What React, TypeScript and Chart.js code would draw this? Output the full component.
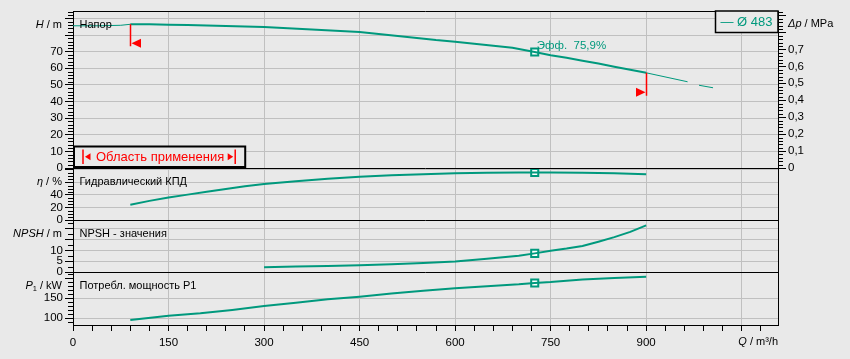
import React, { useEffect, useRef } from 'react';
import { Chart, registerables } from 'chart.js';

Chart.register(...registerables);

// ---------- data ----------
const X_MAX = 1107;
const X_TICKS = [0, 30, 60, 90, 120, 150, 180, 210, 240, 270, 300, 330, 360, 390, 420, 450, 480, 510, 540, 570, 600, 630, 660, 690, 720, 750, 780, 810, 840, 870, 900, 930, 960, 990, 1020, 1050, 1080];
const X_LABELS = [0, 150, 300, 450, 600, 750, 900];
const X_GRID = [150, 300, 450, 600, 750, 900, 1050];

const H_MAX = 94.5;
const H_TICKS = [0, 10, 20, 30, 40, 50, 60, 70, 80, 90];
const H_LABELS = [0, 10, 20, 30, 40, 50, 60, 70];
const ETA_MAX = 83;
const ETA_TICKS = [0, 20, 40, 60, 80];
const ETA_LABELS = [0, 20, 40];
const NPSH_MAX = 24;
const NPSH_TICKS = [0, 5, 10, 15, 20];
const NPSH_LABELS = [0, 5, 10];
const P_MIN = 83.3;
const P_MAX = 215.8;
const P_TICKS = [100, 150, 200];
const P_LABELS = [100, 150];
const DP_TICKS = [0, 0.1, 0.2, 0.3, 0.4, 0.5, 0.6, 0.7, 0.8, 0.9];
const DP_LABELS = [0, 0.1, 0.2, 0.3, 0.4, 0.5, 0.6, 0.7];

const H_PRE_Q = [0, 40, 75, 90];
const H_PRE_V = [85.6, 85.6, 85.9, 86.5];
const H_Q = [90, 120, 150, 180, 210, 240, 270, 300, 330, 360, 390, 420, 450, 480, 510, 540, 570, 600, 630, 660, 690, 725, 750, 775, 800, 825, 850, 875, 900];
const H_V = [86.5, 86.5, 86.2, 86.0, 85.8, 85.5, 85.2, 84.9, 84.3, 83.7, 83.0, 82.4, 81.8, 80.6, 79.4, 78.3, 77.0, 76.0, 74.8, 73.6, 72.4, 69.8, 67.9, 66.3, 64.5, 62.9, 61.0, 59.2, 57.3];
const H_POST_Q = [900, 965, 974, 983, 1005];
const H_POST_V = [57.3, 51.9, null, 49.8, 48.3];

const ETA_Q = [90, 120, 150, 180, 210, 240, 270, 300, 350, 400, 450, 500, 550, 600, 650, 700, 725, 750, 800, 850, 900];
const ETA_V = [24.5, 30.5, 36, 40.5, 45, 49.5, 54, 57.6, 62, 66, 69, 71.5, 73.2, 74.6, 75.5, 75.9, 75.9, 75.9, 75.5, 74.6, 73.2];

const NPSH_Q = [300, 350, 400, 450, 500, 550, 600, 650, 700, 725, 750, 775, 800, 825, 850, 875, 900];
const NPSH_V = [2.2, 2.5, 2.8, 3.1, 3.6, 4.2, 4.8, 6.1, 7.5, 8.6, 9.8, 10.8, 12.0, 14.0, 16.1, 18.5, 21.5];

const P_Q = [90, 150, 200, 250, 300, 350, 400, 450, 500, 550, 600, 650, 700, 725, 750, 800, 850, 900];
const P_V = [95.7, 106.5, 112.5, 121, 131, 139, 147.5, 154, 162, 169, 175, 180, 185, 188.5, 190.5, 197, 201, 204];

const DUTY_Q = 725;
const EFF_TEXT = 'Эфф.  75,9%';
const LEGEND_TEXT = '— Ø 483';
const RANGE_TEXT = 'Область применения';

// ---------- style ----------
const BG = '#e9e9e9';
const GRID = '#c0c0c0';
const TEAL = '#00997d';
const RED = '#ff0000';
const TXT = '#000000';
const FONT = '"Liberation Sans", Arial, sans-serif';
const LBL = 11;
const TICK = 11.5;
const W_H = 157, W_E = 52, W_N = 52, W_P = 53;
const M_PER_MPA = 101.97;

const pts = (q: number[], v: (number | null)[]) => q.map((x, i) => ({ x, y: v[i] }));
const near = (arr: number[], v: number) => arr.some((a) => Math.abs(a - v) < 1e-6);
const dutyVal = (q: number[], v: number[]) => v[q.indexOf(DUTY_Q)];

type Part = { t: string; it?: boolean; size?: number; dy?: number };
function drawRich(ctx: CanvasRenderingContext2D, parts: Part[], x: number, y: number, align: 'left' | 'right', color: string) {
  ctx.save();
  ctx.textBaseline = 'middle';
  ctx.textAlign = 'left';
  ctx.fillStyle = color;
  const fonts = parts.map((p) => `${p.it ? 'italic ' : ''}${p.size || LBL}px ${FONT}`);
  const widths = parts.map((p, i) => {
    ctx.font = fonts[i];
    return ctx.measureText(p.t).width;
  });
  const total = widths.reduce((a, b) => a + b, 0);
  let cx = align === 'right' ? x - total : x;
  parts.forEach((p, i) => {
    ctx.font = fonts[i];
    ctx.fillText(p.t, cx, y + (p.dy || 0));
    cx += widths[i];
  });
  ctx.restore();
}

function minorTicks(ctx: CanvasRenderingContext2D, scale: any, from: number, to: number, step: number, majors: number[], side: 'left' | 'right') {
  ctx.save();
  ctx.strokeStyle = '#000';
  ctx.lineWidth = 1;
  ctx.beginPath();
  const n = Math.round((to - from) / step);
  for (let i = 0; i <= n; i++) {
    const v = from + i * step;
    if (v < scale.min - 1e-9 || v > scale.max + 1e-9) continue;
    if (near(majors, v)) continue;
    const y = Math.round(scale.getPixelForValue(v)) + 0.5;
    if (side === 'left') {
      ctx.moveTo(scale.right - 5, y);
      ctx.lineTo(scale.right, y);
    } else {
      ctx.moveTo(scale.left, y);
      ctx.lineTo(scale.left + 5, y);
    }
  }
  ctx.stroke();
  ctx.restore();
}

function tri(ctx: CanvasRenderingContext2D, tipX: number, y: number, len: number, half: number, dir: number) {
  ctx.beginPath();
  ctx.moveTo(tipX, y);
  ctx.lineTo(tipX + dir * len, y - half);
  ctx.lineTo(tipX + dir * len, y + half);
  ctx.closePath();
  ctx.fill();
}

const decoPlugin = {
  id: 'deco',
  beforeDraw(chart: any) {
    const ctx = chart.ctx;
    ctx.save();
    ctx.fillStyle = BG;
    ctx.fillRect(0, 0, chart.width, chart.height);
    ctx.restore();
  },
  afterDraw(chart: any) {
    const ctx: CanvasRenderingContext2D = chart.ctx;
    const ca = chart.chartArea;
    const { x, yH, yE, yN, yP, yDp } = chart.scales;

    // minor ticks
    minorTicks(ctx, yH, 0, 94, 2, H_TICKS, 'left');
    minorTicks(ctx, yE, 0, 80, 5, ETA_TICKS, 'left');
    minorTicks(ctx, yN, 0, 22.5, 2.5, NPSH_TICKS, 'left');
    minorTicks(ctx, yP, 90, 210, 10, P_TICKS, 'left');
    minorTicks(ctx, yDp, 0, 0.92, 0.02, DP_TICKS, 'right');

    // separators and frame
    ctx.save();
    ctx.strokeStyle = '#000';
    ctx.lineWidth = 1;
    ctx.beginPath();
    for (const s of [yE, yN, yP]) {
      const yy = Math.round(s.top) + 0.5;
      ctx.moveTo(ca.left, yy);
      ctx.lineTo(ca.right, yy);
    }
    const ty = Math.round(ca.top) + 0.5;
    ctx.moveTo(ca.left, ty);
    ctx.lineTo(ca.right, ty);
    ctx.stroke();
    ctx.restore();

    // axis titles
    const off = 13.5;
    drawRich(ctx, [{ t: 'H', it: true }, { t: ' / m' }], ca.left - 11, yH.top + off, 'right', TXT);
    drawRich(ctx, [{ t: 'η', it: true }, { t: ' / %' }], ca.left - 11, yE.top + off, 'right', TXT);
    drawRich(ctx, [{ t: 'NPSH', it: true }, { t: ' / m' }], ca.left - 11, yN.top + off, 'right', TXT);
    drawRich(ctx, [{ t: 'P', it: true }, { t: '1', size: 7.5, dy: 3 }, { t: ' / kW' }], ca.left - 11, yP.top + off, 'right', TXT);
    drawRich(ctx, [{ t: 'Δp', it: true }, { t: ' / MPa' }], ca.right + 10, yH.top + off - 0.5, 'left', TXT);
    drawRich(ctx, [{ t: 'Q', it: true }, { t: ' / m³/h' }], ca.right, x.bottom - 17, 'right', TXT);

    // panel labels
    drawRich(ctx, [{ t: 'Напор' }], ca.left + 6.5, yH.top + off, 'left', TXT);
    drawRich(ctx, [{ t: 'Гидравлический КПД' }], ca.left + 6.5, yE.top + off, 'left', TXT);
    drawRich(ctx, [{ t: 'NPSH - значения' }], ca.left + 6.5, yN.top + off, 'left', TXT);
    drawRich(ctx, [{ t: 'Потребл. мощность P1' }], ca.left + 6.5, yP.top + off, 'left', TXT);

    // efficiency label
    const dx = x.getPixelForValue(DUTY_Q);
    const dy = yH.getPixelForValue(dutyVal(H_Q, H_V));
    drawRich(ctx, [{ t: EFF_TEXT, size: 11.5 }], dx + 2, dy - 6.5, 'left', TEAL);

    // operating limit markers
    ctx.save();
    ctx.strokeStyle = RED;
    ctx.fillStyle = RED;
    ctx.lineWidth = 1.5;
    const qa = H_Q[0];
    const qb = H_Q[H_Q.length - 1];
    const xa = Math.round(x.getPixelForValue(qa)) + 0.5;
    const ya = yH.getPixelForValue(H_V[0]);
    const xb = Math.round(x.getPixelForValue(qb)) + 0.5;
    const yb = yH.getPixelForValue(H_V[H_V.length - 1]);
    ctx.beginPath();
    ctx.moveTo(xa, ya);
    ctx.lineTo(xa, ya + 22);
    ctx.moveTo(xb, yb);
    ctx.lineTo(xb, yb + 23);
    ctx.stroke();
    tri(ctx, xa + 1, ya + 19, 9.5, 4.5, 1);
    tri(ctx, xb - 1, yb + 19.5, 9.5, 4.5, -1);
    ctx.restore();

    // range box
    ctx.save();
    ctx.font = `13px ${FONT}`;
    const tw = ctx.measureText(RANGE_TEXT).width;
    const bx0 = ca.left + 1;
    const by1 = yH.bottom - 1;
    const by0 = by1 - 20.5;
    const lbar = bx0 + 9;
    const txt0 = lbar + 13;
    const rtri = txt0 + tw + 4;
    const rbar = rtri + 7;
    const bx1 = rbar + 10;
    ctx.fillStyle = BG;
    ctx.fillRect(bx0, by0, bx1 - bx0, by1 - by0);
    ctx.strokeStyle = '#000';
    ctx.lineWidth = 2;
    ctx.strokeRect(bx0, by0, bx1 - bx0, by1 - by0);
    const my = (by0 + by1) / 2;
    ctx.strokeStyle = RED;
    ctx.fillStyle = RED;
    ctx.lineWidth = 1.5;
    ctx.beginPath();
    ctx.moveTo(lbar, by0 + 3);
    ctx.lineTo(lbar, by1 - 3);
    ctx.moveTo(rbar, by0 + 3);
    ctx.lineTo(rbar, by1 - 3);
    ctx.stroke();
    tri(ctx, lbar + 2, my, 5.5, 3.5, 1);
    tri(ctx, rbar - 2, my, 5.5, 3.5, -1);
    ctx.textBaseline = 'middle';
    ctx.textAlign = 'left';
    ctx.fillText(RANGE_TEXT, txt0, my + 0.5);
    ctx.restore();

    // legend box
    ctx.save();
    const lx1 = ca.right;
    const lx0 = lx1 - 62.5;
    const ly0 = ca.top;
    const ly1 = ly0 + 21.5;
    ctx.fillStyle = BG;
    ctx.fillRect(lx0, ly0, lx1 - lx0, ly1 - ly0);
    ctx.strokeStyle = '#000';
    ctx.lineWidth = 1.5;
    ctx.strokeRect(lx0, ly0, lx1 - lx0, ly1 - ly0);
    ctx.restore();
    drawRich(ctx, [{ t: LEGEND_TEXT, size: 13 }], lx0 + 5, (ly0 + ly1) / 2 + 0.5, 'left', TEAL);
  },
};

export default function App() {
  const ref = useRef<HTMLCanvasElement>(null);
  useEffect(() => {
    document.body.style.margin = '0';
    document.body.style.background = BG;
    const tickFont = { family: FONT, size: TICK };
    const lineDs = (data: any[], yAxisID: string, w: number) => ({
      data,
      yAxisID,
      xAxisID: 'x',
      borderColor: TEAL,
      backgroundColor: TEAL,
      borderWidth: w,
      pointRadius: 0,
      fill: false,
      tension: 0,
      spanGaps: false,
    });
    const dutyDs = (val: number, yAxisID: string) => ({
      data: [{ x: DUTY_Q, y: val }],
      yAxisID,
      xAxisID: 'x',
      showLine: false,
      pointStyle: 'rect',
      pointRadius: 5,
      pointBorderWidth: 2,
      pointBackgroundColor: '#ffffff',
      pointBorderColor: TEAL,
    });
    const yAxis = (
      min: number,
      max: number,
      ticks: number[],
      labels: number[],
      weight: number,
      order: number,
      gridTest: (v: number) => boolean
    ) => ({
      type: 'linear',
      position: 'left',
      stack: 'panels',
      stackWeight: weight,
      weight: order,
      bounds: 'data',
      min,
      max,
      afterBuildTicks: (s: any) => {
        s.ticks = ticks.map((v) => ({ value: v }));
      },
      afterFit: (s: any) => {
        s.width = 73;
      },
      grid: {
        color: (c: any) => (c.tick && gridTest(c.tick.value) ? GRID : 'rgba(0,0,0,0)'),
        tickColor: '#000',
        tickLength: 8,
        lineWidth: 1,
      },
      border: { color: '#000', width: 1 },
      ticks: {
        autoSkip: false,
        padding: 2,
        color: TXT,
        font: tickFont,
        callback: (v: number) => (near(labels, v) ? String(v) : ''),
      },
    });

    const dpMax = H_MAX / M_PER_MPA;
    const dpMin = (-dpMax * (W_E + W_N + W_P)) / W_H;

    const chart = new Chart(ref.current as HTMLCanvasElement, {
      type: 'line',
      data: {
        datasets: [
          lineDs(pts(H_PRE_Q, H_PRE_V), 'yH', 1),
          lineDs(pts(H_Q, H_V), 'yH', 2),
          lineDs(pts(H_POST_Q, H_POST_V), 'yH', 1),
          lineDs(pts(ETA_Q, ETA_V), 'yE', 2),
          lineDs(pts(NPSH_Q, NPSH_V), 'yN', 2),
          lineDs(pts(P_Q, P_V), 'yP', 2),
          dutyDs(dutyVal(H_Q, H_V), 'yH'),
          dutyDs(dutyVal(ETA_Q, ETA_V), 'yE'),
          dutyDs(dutyVal(NPSH_Q, NPSH_V), 'yN'),
          dutyDs(dutyVal(P_Q, P_V), 'yP'),
        ] as any,
      },
      options: {
        animation: false,
        responsive: false,
        devicePixelRatio: 1,
        layout: { padding: { top: 11, left: 0, right: 0, bottom: 0 } },
        plugins: { legend: { display: false }, tooltip: { enabled: false }, title: { display: false } },
        scales: {
          x: {
            type: 'linear',
            position: 'bottom',
            bounds: 'data',
            min: 0,
            max: X_MAX,
            afterBuildTicks: (s: any) => {
              s.ticks = X_TICKS.map((v) => ({ value: v }));
            },
            afterFit: (s: any) => {
              s.height = 34;
            },
            grid: {
              color: (c: any) => (c.tick && near(X_GRID, c.tick.value) ? GRID : 'rgba(0,0,0,0)'),
              tickColor: '#000',
              tickLength: 6,
              lineWidth: 1,
            },
            border: { color: '#000', width: 1 },
            ticks: {
              autoSkip: false,
              maxRotation: 0,
              padding: 5,
              color: TXT,
              font: tickFont,
              callback: (v: number) => (near(X_LABELS, v) ? String(v) : ''),
            },
          },
          yH: yAxis(0, H_MAX, H_TICKS, H_LABELS, W_H, 4, (v) => v > 0),
          yE: yAxis(0, ETA_MAX, ETA_TICKS, ETA_LABELS, W_E, 3, (v) => v > 0),
          yN: yAxis(0, NPSH_MAX, NPSH_TICKS, NPSH_LABELS, W_N, 2, (v) => v > 0),
          yP: yAxis(P_MIN, P_MAX, P_TICKS, P_LABELS, W_P, 1, (v) => v <= 150),
          yDp: {
            type: 'linear',
            position: 'right',
            bounds: 'data',
            min: dpMin,
            max: dpMax,
            afterBuildTicks: (s: any) => {
              s.ticks = DP_TICKS.map((v) => ({ value: v }));
            },
            afterFit: (s: any) => {
              s.width = 72;
            },
            grid: { drawOnChartArea: false, tickColor: '#000', tickLength: 8, lineWidth: 1 },
            border: { color: '#000', width: 1 },
            ticks: {
              autoSkip: false,
              padding: 2,
              color: TXT,
              font: tickFont,
              callback: (v: number) =>
                near(DP_LABELS, v) ? (Math.abs(v) < 1e-9 ? '0' : v.toFixed(1).replace('.', ',')) : '',
            },
          },
        } as any,
      },
      plugins: [decoPlugin],
    });
    return () => chart.destroy();
  }, []);
  return (
    <div style={{ width: 850, height: 359 }}>
      <canvas ref={ref} width={850} height={359} style={{ display: 'block' }} />
    </div>
  );
}
